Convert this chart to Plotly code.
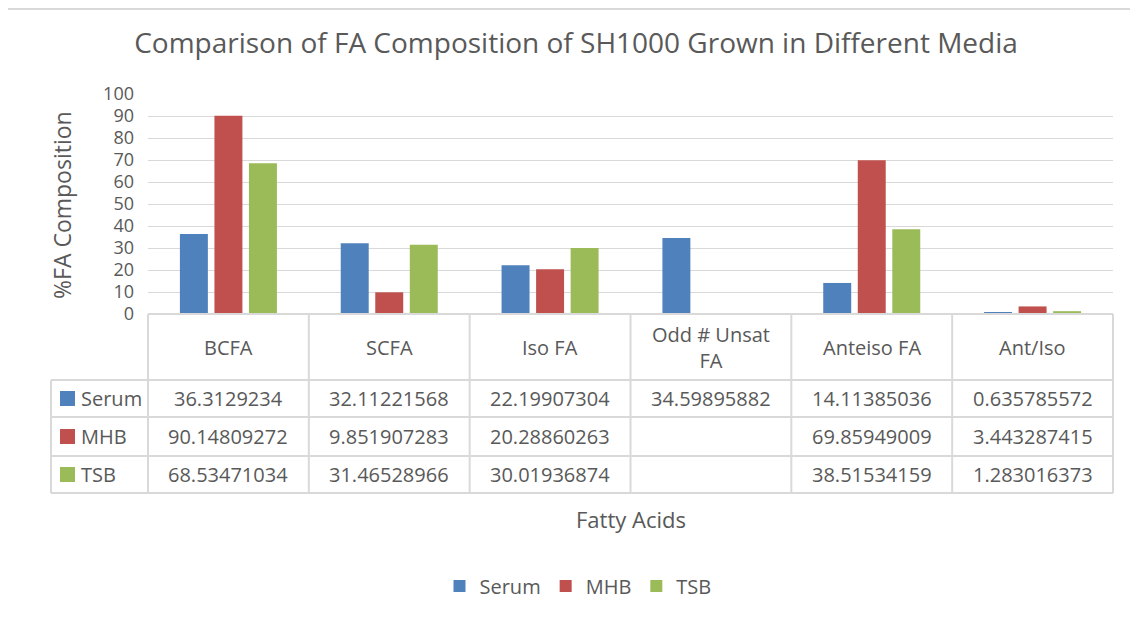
import plotly.graph_objects as go

categories = ["BCFA", "SCFA", "Iso FA", "Odd # Unsat<br>FA", "Anteiso FA", "Ant/Iso"]
series_names = ["Serum", "MHB", "TSB"]
serum = [36.3129234, 32.11221568, 22.19907304, 34.59895882, 14.11385036, 0.635785572]
mhb = [90.14809272, 9.851907283, 20.28860263, None, 69.85949009, 3.443287415]
tsb = [68.53471034, 31.46528966, 30.01936874, None, 38.51534159, 1.283016373]
table_text = {
    "Serum": ["36.3129234", "32.11221568", "22.19907304", "34.59895882", "14.11385036", "0.635785572"],
    "MHB": ["90.14809272", "9.851907283", "20.28860263", "", "69.85949009", "3.443287415"],
    "TSB": ["68.53471034", "31.46528966", "30.01936874", "", "38.51534159", "1.283016373"],
}
colors = {"Serum": "#4F81BD", "MHB": "#C0504D", "TSB": "#9BBB59"}
yticks = [0, 10, 20, 30, 40, 50, 60, 70, 80, 90, 100]

# the page body adds an 8px margin; the figure is sized so it fills the window
OFF = 8
W, H = 1138 - OFF, 622 - OFF
ML, MR, MT, MB = 148 - OFF, 25, 94 - OFF, 622 - 314
PW = W - ML - MR
PH = H - MT - MB
FONT = "Open Sans"
GREY = "#595959"
LINE = "#d9d9d9"


def px_x(px):  # reference-window pixel -> paper x
    return (px - OFF - ML) / PW


def px_y(py):  # reference-window pixel -> paper y
    return (MT + PH - (py - OFF)) / PH


fig = go.Figure()
for name, vals in zip(series_names, [serum, mhb, tsb]):
    fig.add_trace(go.Bar(x=list(range(len(categories))), y=vals, name=name,
                         marker=dict(color=colors[name], line=dict(width=0))))

shapes = []
annotations = []
n = len(categories)
top_y, head_y = 314, 380
row_edges = [380, 417, 456, 493]
left_px = 51
shapes.append(dict(type="line", xref="paper", yref="paper", x0=0, x1=1, y0=px_y(top_y), y1=px_y(top_y),
                   line=dict(color=LINE, width=2)))
for ry in row_edges:
    shapes.append(dict(type="line", xref="paper", yref="paper", x0=px_x(left_px), x1=1, y0=px_y(ry), y1=px_y(ry),
                       line=dict(color=LINE, width=2)))
for k in range(n + 1):
    shapes.append(dict(type="line", xref="paper", yref="paper", x0=k / n, x1=k / n, y0=px_y(top_y),
                       y1=px_y(row_edges[-1]), line=dict(color=LINE, width=2)))
shapes.append(dict(type="line", xref="paper", yref="paper", x0=px_x(left_px), x1=px_x(left_px),
                   y0=px_y(head_y), y1=px_y(row_edges[-1]), line=dict(color=LINE, width=2)))

for i, c in enumerate(categories):
    annotations.append(dict(xref="paper", yref="paper", x=(i + 0.5) / n, y=px_y((top_y + head_y) / 2),
                            text=c, showarrow=False, font=dict(family=FONT, size=20, color=GREY),
                            xanchor="center", yanchor="middle"))
for r, name in enumerate(series_names):
    cy = (row_edges[r] + row_edges[r + 1]) / 2
    shapes.append(dict(type="rect", xref="paper", yref="paper", x0=px_x(60), x1=px_x(75),
                       y0=px_y(cy - 7.5), y1=px_y(cy + 7.5), fillcolor=colors[name], line=dict(width=0)))
    annotations.append(dict(xref="paper", yref="paper", x=px_x(79), y=px_y(cy), text=name, showarrow=False,
                            font=dict(family=FONT, size=20, color=GREY), xanchor="left", yanchor="middle"))
    for i, t in enumerate(table_text[name]):
        annotations.append(dict(xref="paper", yref="paper", x=(i + 0.5) / n, y=px_y(cy), text=t, showarrow=False,
                                font=dict(family=FONT, size=20, color=GREY), xanchor="center", yanchor="middle"))

annotations.append(dict(xref="paper", yref="paper", x=px_x(62), y=px_y(205), text="%FA Composition", textangle=-90,
                        showarrow=False, font=dict(family=FONT, size=23, color=GREY),
                        xanchor="center", yanchor="middle"))
annotations.append(dict(xref="paper", yref="paper", x=0.5, y=px_y(519), text="Fatty Acids",
                        showarrow=False, font=dict(family=FONT, size=22, color=GREY),
                        xanchor="center", yanchor="middle"))

shapes.append(dict(type="line", xref="paper", yref="paper", x0=px_x(7), x1=px_x(7), y0=px_y(OFF), y1=px_y(622),
                   line=dict(color=LINE, width=2)))
shapes.append(dict(type="line", xref="paper", yref="paper", x0=px_x(7), x1=px_x(1138), y0=px_y(9), y1=px_y(9),
                   line=dict(color=LINE, width=2)))

fig.update_layout(
    width=W, height=H,
    margin=dict(l=ML, r=MR, t=MT, b=MB, autoexpand=False),
    paper_bgcolor="white", plot_bgcolor="white",
    barmode="group", bargap=0.356, bargroupgap=0.19,
    title=dict(text="Comparison of FA Composition of SH1000 Grown in Different Media",
               x=(576 - OFF) / W, xref="container", xanchor="center", y=1 - (43 - OFF) / H, yref="container",
               yanchor="middle", font=dict(family=FONT, size=28, color=GREY)),
    xaxis=dict(range=[-0.5, n - 0.5], showticklabels=False, showgrid=False, zeroline=False, showline=False,
               ticks=""),
    yaxis=dict(range=[0, 100], tickvals=yticks, showgrid=True, gridcolor=LINE, gridwidth=1.3, zeroline=False,
               showline=False, ticks="", tickfont=dict(family=FONT, size=18, color=GREY), ticklabelstandoff=13),
    showlegend=True,
    legend=dict(orientation="h", x=px_x(578), xanchor="center", y=px_y(586), yanchor="middle",
                font=dict(family=FONT, size=20, color=GREY), itemwidth=30, traceorder="normal"),
    shapes=shapes, annotations=annotations,
    font=dict(family=FONT, color=GREY),
)

fig.write_html("out.html")
